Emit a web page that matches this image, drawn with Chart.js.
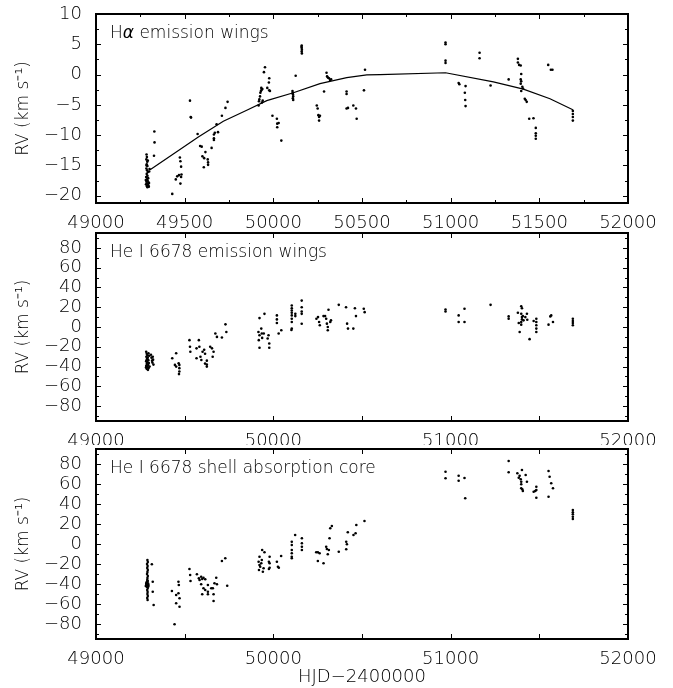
<!DOCTYPE html>
<html>
<head>
<meta charset="utf-8">
<script src="https://cdn.jsdelivr.net/npm/chart.js@4.4.1/dist/chart.umd.min.js"></script>
<style>
  html, body { margin: 0; padding: 0; background: #fff; }
  #page { position: relative; width: 673px; height: 688px; }
  canvas { position: absolute; left: 0; }
</style>
</head>
<body>
<div id="page">
  <canvas id="haChart" width="673" height="229" style="top:0px"></canvas>
  <canvas id="emChart" width="673" height="216" style="top:229px"></canvas>
  <canvas id="absChart" width="673" height="243" style="top:445px"></canvas>
</div>
<script>
// RV curves: H-alpha wings, He I 6678 wings, He I 6678 shell core
// points are [HJD-2400000, RV in km/s]

// --- H alpha emission wings ---
const haPoints = [
  [49285,-13.2],[49287,-13.6],[49284,-14.0],[49289,-14.4],[49286,-14.8],[49290,-15.1],
  [49284,-15.5],[49288,-15.8],[49292,-16.1],[49286,-16.4],[49290,-16.7],[49283,-16.9],
  [49294,-17.1],[49287,-17.3],[49291,-17.5],[49284,-17.7],[49296,-17.8],[49289,-18.0],
  [49282,-18.1],[49293,-18.2],[49286,-18.4],[49298,-18.5],[49290,-18.6],[49300,-16.0],
  [49302,-15.6],[49281,-17.4],[49295,-18.3],[49299,-17.9],[49285,-15.0],[49292,-14.2],
  [49329,-9.4],[49330,-11.2],[49327,-13.4],[49430,-19.7],[49450,-17.3],[49458,-16.8],
  [49468,-16.6],[49476,-18.0],[49473,-13.7],[49476,-14.3],[49480,-15.2],[49482,-16.5],
  [49480,-16.9],[49530,-4.3],[49534,-7.0],[49536,-7.1],[49573,-9.8],[49587,-11.8],
  [49596,-11.9],[49600,-13.5],[49610,-13.8],[49608,-15.3],[49617,-12.8],[49630,-14.0],
  [49632,-14.5],[49632,-14.9],[49652,-12.1],[49665,-9.9],[49665,-10.5],[49665,-10.8],
  [49670,-9.6],[49680,-8.2],[49688,-9.5],[49710,-6.8],[49730,-5.5],[49742,-4.5],
  [49917,-5.1],[49919,-4.4],[49921,-4.1],[49925,-3.6],[49927,-3.0],[49930,-2.7],
  [49934,-2.5],[49936,-4.6],[49940,-4.3],[49938,-2.4],[49932,-2.2],
  [49947,0.4],[49953,1.2],[49966,-2.2],[49977,-2.6],[49981,-2.7],[49975,-1.3],
  [49977,-0.6],[49995,-6.8],[50020,-7.3],[50022,-8.1],[50022,-8.7],[50030,-8.0],
  [50045,-10.9],
  [50108,-2.7],[50110,-3.0],[50111,-3.3],[50112,-3.6],[50110,-3.9],[50112,-4.2],[50109,-3.1],
  [50126,-0.2],
  [50160,4.8],[50160,4.4],[50161,4.1],[50160,3.8],[50161,3.5],[50159,4.6],
  [50245,-5.1],[50250,-5.6],[50254,-6.7],[50258,-7.0],[50263,-6.8],[50258,-7.6],
  [50286,-2.8],[50300,0.3],[50303,-0.3],[50308,-0.5],[50314,-0.6],[50320,-0.9],
  [50326,-0.8],[50413,-2.8],[50413,-3.2],[50413,-5.6],[50421,-5.5],[50451,-5.1],
  [50466,-5.6],[50470,-7.3],[50511,-2.6],[50517,0.8],
  [50971,5.3],[50971,5.0],[50971,2.3],[50971,1.9],[51045,-1.4],[51049,-1.6],
  [51080,-3.0],[51084,-1.9],[51082,-4.2],[51084,-5.2],[51163,3.6],[51163,2.7],
  [51225,-1.8],[51327,-0.8],[51379,2.6],[51379,2.0],[51386,1.6],[51395,1.5],
  [51398,0.1],[51395,-0.8],[51398,-1.1],[51395,-1.5],[51404,-2.0],[51398,-2.7],
  [51408,-2.3],[51418,-4.0],[51423,-4.2],[51429,-4.5],[51443,-7.3],[51467,-7.2],
  [51480,-8.8],[51480,-9.7],[51480,-10.1],[51480,-10.6],[51550,1.6],[51565,0.8],
  [51574,0.8],[51689,-6.0],[51689,-6.5],[51689,-7.0],[51689,-7.6]
];

// fitted curve drawn through the H alpha points
const haFit = [
  [49305,-15.7],[49436,-13.1],[49577,-10.3],[49718,-7.7],[49850,-5.9],[49963,-4.3],
  [50113,-3.0],[50263,-1.5],[50414,-0.5],[50527,-0.05],[50602,0.0],[50971,0.3],
  [51241,-1.2],[51410,-2.4],[51560,-4.0],[51689,-5.8]
];

// --- He I 6678 emission wings ---
const emPoints = [
  [49283,-25],[49286,-27],[49290,-28.5],[49284,-30],[49292,-31],[49287,-32.5],
  [49295,-33.5],[49283,-34.5],[49290,-35.5],[49298,-36.5],[49286,-37.5],[49294,-38.5],
  [49283,-39.5],[49290,-40.5],[49297,-41.5],[49286,-42.3],[49293,-43.3],[49300,-29],
  [49302,-40],[49288,-36],[49282,-41],[49296,-26.5],
  [49310,-28],[49313,-31],[49316,-34],[49318,-36],[49320,-30],[49324,-38],[49322,-33],
  [49430,-31.6],[49452,-26.6],[49445,-38.3],[49452,-40],[49466,-36.6],[49470,-38.3],
  [49470,-41.6],[49470,-45],[49468,-47.6],
  [49527,-13.3],[49530,-20],[49532,-25],[49567,-21.6],[49567,-31.6],[49580,-13.3],
  [49583,-20],[49589,-30],[49594,-33.3],[49601,-25],[49610,-23],[49615,-27],
  [49615,-37],[49625,-34],[49625,-38],[49625,-40],
  [49644,-20],[49654,-21.6],[49658,-30],[49663,-25],[49673,-6.6],[49682,-10],
  [49710,-10.6],[49730,2.7],[49735,-5],
  [49922,9],[49916,-5],[49922,-8.3],[49918,-13.3],[49922,-21],[49932,-1.6],
  [49935,-6.6],[49937,-11],[49946,-6.6],[49950,13.3],[49968,-11.6],[49973,-8.3],
  [49977,-16.6],[49977,-21],
  [50020,11.7],[50020,7.7],[50020,4],[50030,-6.6],[50045,-3.3],
  [50104,21.7],[50104,19],[50104,16.7],[50104,14.4],[50104,11.7],[50104,8.4],
  [50104,5],[50104,-1.6],[50102,-3],
  [50124,13.3],[50124,11],[50160,26.7],[50160,20],[50160,15.7],[50160,13.3],[50160,3.3],
  [50243,8.4],[50252,10],[50258,5],[50262,1.7],[50283,11],[50292,11],[50298,8.4],
  [50302,3.4],[50307,0],[50307,-3.3],[50311,17.4],[50321,5],[50325,6.7],[50369,22.4],
  [50410,20],[50416,3.4],[50421,-1.6],[50451,-1.6],[50460,19],[50466,11],
  [50510,18.4],[50515,15],
  [50971,17.7],[50971,15.7],[51045,11.7],[51045,5],[51078,18.4],[51078,5],
  [51225,22.4],[51327,10.7],[51327,8.4],[51379,14.4],[51384,4],[51389,-5],
  [51398,21],[51402,19],[51398,13.4],[51402,10],[51402,7.7],[51398,5],[51398,2.4],
  [51407,11],[51411,6.7],[51421,10],[51430,13.4],[51432,7.4],[51445,-12.3],
  [51468,6],[51483,8.4],[51483,5],[51483,1.7],[51483,-1.6],[51483,-5],
  [51552,2.4],[51562,10.7],[51567,11.7],[51577,5],
  [51689,8.4],[51689,6],[51689,4],[51689,1.7]
];

// --- He I 6678 shell absorption core ---
const absPoints = [
  [49290,-16],[49292,-18],[49288,-20],[49291,-22],[49289,-24],[49292,-26],[49290,-28],
  [49288,-30],[49292,-32],[49290,-34],[49289,-36],[49292,-37],[49286,-38],[49290,-39],
  [49294,-39.5],[49283,-40],[49288,-40.5],[49292,-41],[49285,-41.5],[49290,-42],
  [49295,-42.5],[49287,-43],[49292,-44],[49289,-46],[49291,-48],[49290,-50],
  [49292,-52],[49289,-54],[49291,-56],[49284,-39],[49296,-41],[49281,-42],
  [49315,-20.3],[49320,-37.7],[49320,-47.7],[49325,-61],
  [49428,-47],[49443,-80.3],[49452,-59.3],[49452,-51],[49465,-37.7],[49467,-41],
  [49465,-49.3],[49471,-54.3],[49471,-62.7],[49527,-25],[49531,-31],[49533,-37],
  [49569,-30.3],[49580,-34.3],[49584,-36],[49593,-32.7],[49599,-35],[49606,-33.7],
  [49616,-35.3],[49593,-40.3],[49599,-50.3],[49606,-44.3],[49616,-46],[49631,-41],
  [49631,-47.7],[49631,-50.3],[49650,-44.3],[49659,-44.3],[49663,-50.3],[49663,-57],
  [49668,-39.3],[49678,-33.7],[49682,-40.3],[49710,-17],[49729,-14.3],[49740,-41.7],
  [49922,-12.7],[49917,-17.7],[49922,-21],[49926,-22.7],[49919,-26],[49932,-19.3],
  [49935,-16],[49941,-27.7],[49945,-24.3],[49937,-6],[49950,-8.3],[49979,-23.7],
  [49975,-17.7],[49979,-19.3],[49979,-12.7],[49975,-25],[50020,-17.7],[50026,-22.7],
  [50031,-23.7],[50044,-12],
  [50104,2.3],[50104,-1],[50104,-6],[50104,-9.3],[50104,-12.7],[50104,-14.3],
  [50123,9],[50161,5.7],[50161,0.7],[50161,-2.7],[50161,-6],
  [50242,-8.3],[50251,-8.3],[50261,-9.3],[50251,-17],[50283,-19.3],[50298,-2.7],
  [50302,-5],[50307,-10.3],[50313,-6],[50317,5.7],[50321,15.7],[50330,18],
  [50369,-7.7],[50411,2.3],[50415,-0.3],[50411,-5.3],[50420,11.7],[50452,9],
  [50464,10.7],[50468,19],[50514,23],
  [50971,72.3],[50971,65.7],[51045,68.3],[51045,63.3],[51078,66],[51082,45.7],
  [51327,83],[51327,71.7],[51376,70.7],[51384,66.3],[51389,68.3],[51395,64.7],
  [51398,62.3],[51398,59.7],[51398,55.7],[51404,54.7],[51407,53],[51402,74],
  [51423,69],[51430,62.3],[51468,52.3],[51477,53],[51483,57.3],[51483,54],
  [51483,46.3],[51552,73],[51558,67.3],[51567,60.7],[51577,55.7],[51552,47.3],
  [51689,34],[51689,31.7],[51689,29.7],[51689,27.3],[51689,25]
];

// --- ticks ---
const xTicksTop = [49000, 49500, 50000, 50500, 51000, 51500, 52000];
const xMinorTop = [49250, 49750, 50250, 50750, 51250, 51750];
const xTicksLow = [49000, 50000, 51000, 52000];
const xMinorLow = [49500, 50500, 51500];
const haYTicks = [-20, -15, -10, -5, 0, 5, 10];
const haYMinor = [-17.5, -12.5, -7.5, -2.5, 2.5, 7.5];
const heYTicks = [-80, -60, -40, -20, 0, 20, 40, 60, 80];
const heYMinor = [-90, -70, -50, -30, -10, 10, 30, 50, 70, 90];

const FONT = "'DejaVu Sans', sans-serif";
const WEIGHT = 200;
const INK = '#000';

// frame + inward ticks on all four sides
const framePlugin = {
  id: 'frame',
  afterDraw(chart) {
    const { ctx, chartArea: a, scales: { x, y } } = chart;
    const f = chart.options.plugins.frame;
    ctx.save();
    ctx.strokeStyle = '#000';
    ctx.lineWidth = 1;
    ctx.beginPath();
    const xt = (vals, len) => vals.forEach(v => {
      const px = Math.round(x.getPixelForValue(v)) + 0.5;
      ctx.moveTo(px, a.bottom); ctx.lineTo(px, a.bottom - len);
      ctx.moveTo(px, a.top); ctx.lineTo(px, a.top + len);
    });
    const yt = (vals, len) => vals.forEach(v => {
      const py = Math.round(y.getPixelForValue(v)) + 0.5;
      ctx.moveTo(a.left, py); ctx.lineTo(a.left + len, py);
      ctx.moveTo(a.right, py); ctx.lineTo(a.right - len, py);
    });
    xt(f.xMajor, 5); xt(f.xMinor, 3);
    yt(f.yMajor, 5); yt(f.yMinor, 3);
    ctx.stroke();
    ctx.lineWidth = 2;
    ctx.strokeRect(a.left, a.top, a.right - a.left, a.bottom - a.top);

    // panel label (greek letter in normal-weight italic)
    ctx.fillStyle = INK;
    ctx.textBaseline = 'alphabetic';
    let tx = a.left + 14;
    const ty = a.top + 24;
    f.label.forEach(part => {
      ctx.font = part.italic ? 'italic 400 17px ' + FONT : WEIGHT + ' 17px ' + FONT;
      ctx.fillText(part.t, tx, ty);
      tx += ctx.measureText(part.t).width;
    });
    ctx.restore();
  }
};

function makeChart(id, o) {
  const H = document.getElementById(id).height;
  const datasets = [{
    data: o.points.map(([x, y]) => ({ x, y })),
    pointRadius: 1.3,
    pointBorderWidth: 0,
    pointBackgroundColor: '#000',
    showLine: false
  }];
  if (o.fit) {
    datasets.push({
      data: o.fit.map(([x, y]) => ({ x, y })),
      showLine: true,
      pointRadius: 0,
      borderColor: '#000',
      borderWidth: 1.2,
      tension: 0
    });
  }
  const font = { family: FONT, size: 18, weight: WEIGHT };
  return new Chart(document.getElementById(id), {
    type: 'scatter',
    data: { datasets },
    options: {
      responsive: false,
      animation: false,
      layout: { padding: { top: o.top, right: 45, left: 0, bottom: 0 } },
      plugins: {
        legend: { display: false },
        tooltip: { enabled: false },
        frame: { xMajor: o.xTicks, xMinor: o.xMinor, yMajor: o.yTicks, yMinor: o.yMinor, label: o.label }
      },
      scales: {
        x: {
          type: 'linear', min: 49000, max: 52000,
          grid: { display: false }, border: { display: false },
          afterBuildTicks: s => { s.ticks = o.xTicks.map(v => ({ value: v })); },
          afterFit: s => { s.height = H - o.bottom; s.paddingLeft = 0; s.paddingRight = 0; },
          ticks: {
            maxRotation: 0, autoSkip: false, padding: 2,
            color: INK, font,
            callback: (v) => o.xLabels.includes(v) ? String(v) : ''
          },
          title: {
            display: !!o.xTitle, text: o.xTitle || '', color: INK,
            font, padding: { top: 0, bottom: 0 }
          }
        },
        y: {
          type: 'linear', min: o.yMin, max: o.yMax,
          grid: { display: false }, border: { display: false },
          afterBuildTicks: s => { s.ticks = o.yTicks.map(v => ({ value: v })); },
          afterFit: s => { s.width = 96; s.paddingTop = 0; s.paddingBottom = 0; },
          ticks: {
            autoSkip: false, padding: 6, color: INK, font,
            callback: (v) => String(v).replace('-', '\u2212')
          },
          title: {
            display: true, text: 'RV (km s\u207B\u00B9)', color: INK,
            font: { family: FONT, size: 17, weight: WEIGHT }, padding: { top: 13, bottom: 0 }
          }
        }
      }
    },
    plugins: [framePlugin]
  });
}

makeChart('haChart', {
  points: haPoints, fit: haFit,
  top: 14, bottom: 203,
  yMin: -21.2, yMax: 10,
  yTicks: haYTicks, yMinor: haYMinor,
  xTicks: xTicksTop, xMinor: xMinorTop, xLabels: xTicksTop,
  label: [{ t: 'H' }, { t: '\u03B1', italic: true }, { t: ' emission wings' }]
});

makeChart('emChart', {
  points: emPoints,
  top: 3, bottom: 192,
  yMin: -95, yMax: 95,
  yTicks: heYTicks, yMinor: heYMinor,
  xTicks: xTicksLow.concat(xMinorLow), xMinor: [], xLabels: xTicksLow,
  label: [{ t: 'He I 6678 emission wings' }]
});

makeChart('absChart', {
  points: absPoints,
  top: 4, bottom: 194,
  yMin: -95, yMax: 95,
  yTicks: heYTicks, yMinor: heYMinor,
  xTicks: xTicksLow.concat(xMinorLow), xMinor: [], xLabels: xTicksLow,
  xTitle: 'HJD\u22122400000',
  label: [{ t: 'He I 6678 shell absorption core' }]
});
</script>
</body>
</html>
